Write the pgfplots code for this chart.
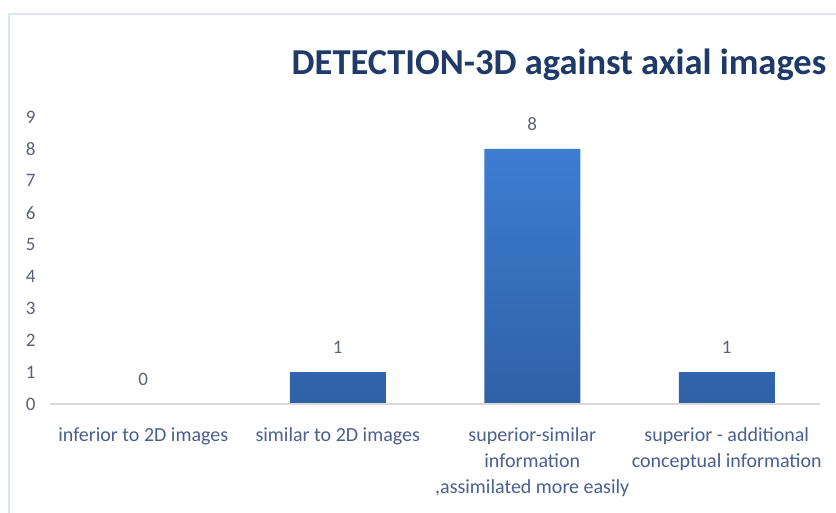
\documentclass[border=0pt]{standalone}
\usepackage{pgfplots}
\pgfplotsset{compat=1.18}
\usepackage{fontspec}
\setmainfont{Carlito}

\definecolor{barTop}{HTML}{3D7DD2}
\definecolor{barBot}{HTML}{2F61A6}
\definecolor{titleCol}{HTML}{1F3A68}
\definecolor{tickCol}{HTML}{5A6274}
\definecolor{catCol}{HTML}{4A5E90}
\definecolor{frameCol}{HTML}{DCE5F2}

\begin{document}
\begin{tikzpicture}
  % page: 836 x 513 pt
  \path[use as bounding box] (0pt,0pt) rectangle (836pt,513pt);
  \draw[frameCol, line width=2.5pt] (9pt,0pt) -- (9pt,499pt) -- (836pt,499pt);

  \node[font=\fontsize{36.5}{40}\selectfont\bfseries, text=titleCol, anchor=base]
    at (559pt,438pt) {DETECTION-3D against axial images};

  \begin{axis}[
    at={(143.25pt,109pt)}, anchor=origin,
    scale only axis,
    width=778pt, height=287pt,
    xmin=-0.5, xmax=3.5,
    ymin=0, ymax=9,
    axis line style={draw=none},
    axis x line*=bottom,
    axis y line*=left,
    xtick=data,
    xticklabels={},
    ytick={0,1,...,9},
    major tick length=0pt,
    /pgf/number format/assume math mode=true,
    tick label style={font=\fontsize{19}{22}\selectfont, text=tickCol},
    yticklabel style={xshift=-7pt},
    clip=false,
  ]
    \addplot[ybar, bar width=96pt, draw=none, top color=barTop, bottom color=barBot,
      nodes near coords,
      every node near coord/.append style={font=\fontsize{19}{22}\selectfont, text=tickCol, yshift=15pt}]
      coordinates {(0,0) (1,1) (2,8) (3,1)};

    % baseline at zero, drawn over the bars
    \addplot[black!15, line width=1.4pt, mark=none] coordinates {(-0.48,0) (3.48,0)};

    % category labels
    \node[font=\fontsize{20}{26}\selectfont, text=catCol, align=center, anchor=north]
      at (axis cs:0,0) [yshift=-20pt] {inferior to 2D images};
    \node[font=\fontsize{20}{26}\selectfont, text=catCol, align=center, anchor=north]
      at (axis cs:1,0) [yshift=-20pt] {similar to 2D images};
    \node[font=\fontsize{20}{26}\selectfont, text=catCol, align=center, anchor=north]
      at (axis cs:2,0) [yshift=-20pt] {superior-similar\\information\\,assimilated more easily};
    \node[font=\fontsize{20}{26}\selectfont, text=catCol, align=center, anchor=north]
      at (axis cs:3,0) [yshift=-20pt] {superior - additional\\conceptual information};
  \end{axis}
\end{tikzpicture}
\end{document}
